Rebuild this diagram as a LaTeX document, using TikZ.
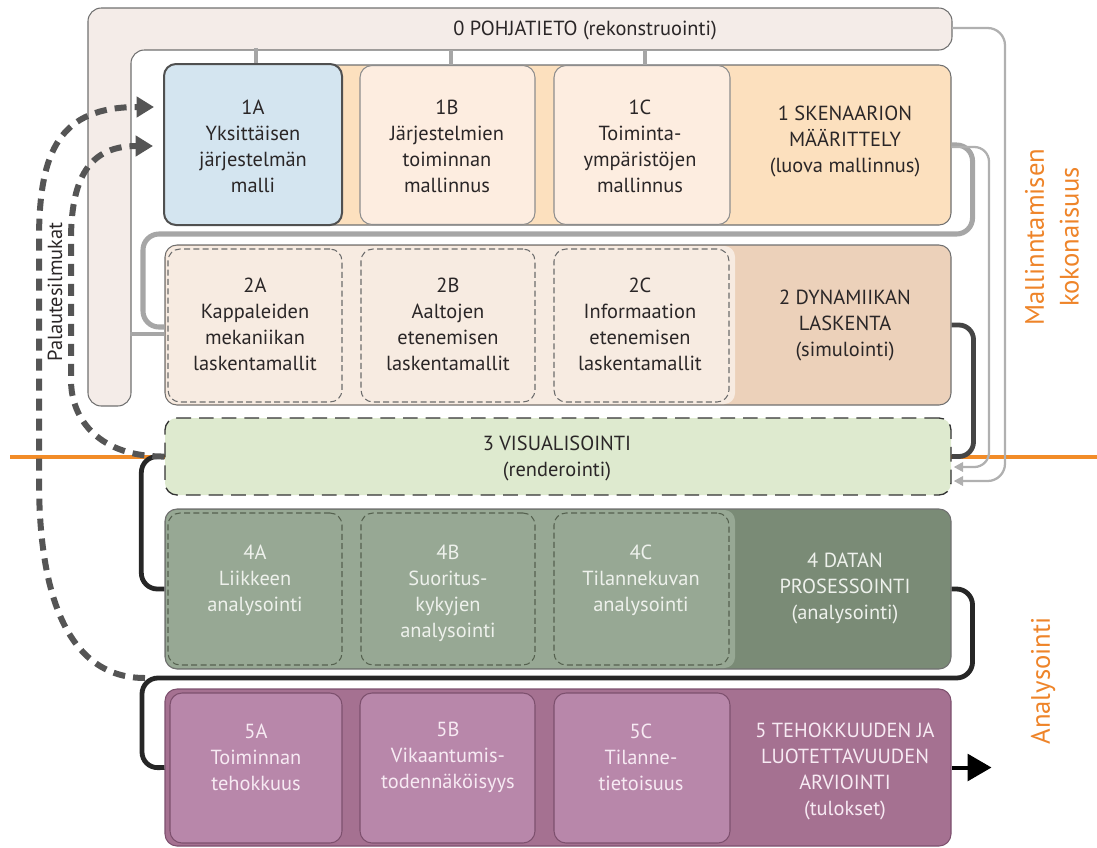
\documentclass[tikz,border=0pt]{standalone}
\usepackage{fontspec}
\setmainfont{PT Sans}
\usetikzlibrary{arrows.meta,calc}
\definecolor{lfill}{HTML}{F4ECE8}
\definecolor{lborder}{HTML}{707070}
\definecolor{rOne}{HTML}{FCE0BE}
\definecolor{bOne}{HTML}{FDEDE0}
\definecolor{aOne}{HTML}{D4E5F0}
\definecolor{aBorder}{HTML}{505050}
\definecolor{rTwo}{HTML}{ECD1BA}
\definecolor{sTwo}{HTML}{F7EBE1}
\definecolor{rThree}{HTML}{DEEACF}
\definecolor{rFour}{HTML}{7A8B76}
\definecolor{sFour}{HTML}{97A894}
\definecolor{dFour}{HTML}{55614F}
\definecolor{rFive}{HTML}{A57191}
\definecolor{bFive}{HTML}{B887AA}
\definecolor{bFiveBorder}{HTML}{7D506E}
\definecolor{orangeline}{HTML}{F28C28}
\definecolor{orangetext}{HTML}{EE8429}
\definecolor{gthickc}{HTML}{A6A6A6}
\definecolor{gthinc}{HTML}{B0B0B0}
\definecolor{darkc}{HTML}{454545}
\definecolor{textdark}{HTML}{2A2627}
\definecolor{textlightg}{HTML}{EEF1EC}
\definecolor{textlightp}{HTML}{F7EAF3}
\definecolor{fbc}{HTML}{555555}
\begin{document}
\begin{tikzpicture}[x=0.75pt,y=-0.75pt,
  box/.style 2 args={rectangle, rounded corners=9pt, minimum width=#1*0.75pt, minimum height=#2*0.75pt, inner sep=0pt},
  txt/.style={align=center, font=\fontsize{15.3}{19.5}\selectfont, text=textdark, inner sep=0pt},
  txtg/.style={txt, text=textlightg},
  txtp/.style={txt, text=textlightp},
  sidetxt/.style={align=center, font=\fontsize{20}{26}\selectfont, text=orangetext, inner sep=0pt, rotate=90},
  gthick/.style={draw=gthickc, line width=3.8pt},
  gthin/.style={draw=gthinc, line width=1.7pt, -{Triangle[length=7pt,width=7pt]}},
  gstub/.style={draw=gthickc, line width=3pt},
  cdark/.style={draw=darkc, line width=3.6pt},
  cblack/.style={draw=black!85, line width=3.6pt},
  fb/.style={draw=fbc, line width=4.5pt, dash pattern=on 9pt off 6pt, -{Triangle[length=13pt,width=15pt]}},
  dbox/.style={draw=gray!85!black, line width=0.8pt, dash pattern=on 4.5pt off 2.5pt},
  dboxg/.style={draw=dFour, line width=0.8pt, dash pattern=on 4.5pt off 2.5pt}
]
\useasboundingbox (0,0) rectangle (1097,847);
% orange separator
\draw[orangeline, line width=3.2pt] (10,457) -- (1097,457);
% 0 POHJATIETO L-shape
\draw[fill=lfill, draw=lborder, line width=0.8pt, rounded corners=10pt]
  (500,8) -- (952,8) -- (952,50) -- (131,50) -- (131,406) -- (88,406) -- (88,8) -- cycle;
\coordinate (L0e) at (952,28);
\node[txt] (t0) at (585,30) {0 POHJATIETO (rekonstruointi)};

% Row 1
\node[box={786}{160}, fill=rOne, draw=lborder, line width=0.8pt] (r1) at (558,145) {};
\node[box={178}{161}, fill=aOne, draw=aBorder, line width=1.5pt] (n1A) at (253,144.5) {};
\node[box={175}{159}, fill=bOne, draw=lborder!80, line width=0.8pt] (n1B) at (447.5,145) {};
\node[box={176}{159}, fill=bOne, draw=lborder!80, line width=0.8pt] (n1C) at (642,145) {};
\draw[gstub] ($(n1A.north)+(3,0)$) -- ++(0,-15);
\draw[gstub] ($(n1B.north)+(3,0)$) -- ++(0,-15);
\draw[gstub] ($(n1C.north)+(3,0)$) -- ++(0,-15);

% Row 2
\node[box={786}{160}, fill=rTwo, draw=lborder, line width=0.8pt] (r2) at (558,325) {};
\node[box={569}{158}, fill=sTwo, rounded corners=8pt] (s2) at (450.5,325) {};
\node[box={174}{153}, dbox] (n2A) at (255,325.5) {};
\node[box={174}{153}, dbox] (n2B) at (448,325.5) {};
\node[box={175}{153}, dbox] (n2C) at (641.5,325.5) {};
\draw[gstub] ($(r2.west)+(0,9)$) -- ++(-34,0);

% Row 3
\node[box={786}{77}, fill=rThree, draw=black!80, line width=1pt, dash pattern=on 11pt off 6pt] (r3) at (558,456.5) {};

% Row 4
\node[box={786}{160}, fill=rFour, draw=lborder, line width=0.8pt] (r4) at (558,589) {};
\node[box={569}{158}, fill=sFour, rounded corners=8pt] (s4) at (450.5,589) {};
\node[box={174}{152}, dboxg] (n4A) at (255,589) {};
\node[box={174}{152}, dboxg] (n4B) at (448,589) {};
\node[box={175}{152}, dboxg] (n4C) at (641.5,589) {};

% Row 5
\node[box={786}{157}, fill=rFive, draw=bFiveBorder, line width=0.8pt] (r5) at (558,767.5) {};
\node[box={172}{150}, fill=bFive, draw=bFiveBorder, line width=0.8pt] (n5A) at (256,768) {};
\node[box={175}{150}, fill=bFive, draw=bFiveBorder, line width=0.8pt] (n5B) at (447.5,768) {};
\node[box={176}{150}, fill=bFive, draw=bFiveBorder, line width=0.8pt] (n5C) at (642,768) {};

% connectors
\draw[gthick, rounded corners=12pt] (r1.east) -- ++(21,0) -- ++(0,89) -- (143,234) -- (143,327) -- ($(r2.west)+(0,2)$);
\draw[gthin, rounded corners=11pt] ($(r1.east)+(0,2)$) -- (989,147) -- (989,467) -- ($(r3.east)+(2,10.5)$);
\draw[gthin, rounded corners=13pt] (L0e) -- (1005,28) -- (1005,481) -- ($(r3.east)+(2,24.5)$);
\draw[cdark, rounded corners=11pt] (r2.east) -- ++(22,0) -- ++(0,131.5) -- (r3.east);
\draw[cblack, rounded corners=12pt] (r3.west) -- ++(-23,0) -- ++(0,132.5) -- (r4.west);
\draw[cblack, rounded corners=12pt] (r4.east) -- ++(21,0) -- ++(0,89) -- (142,678) -- (142,768) -- (r5.west);
\draw[draw=black, line width=3pt, -{Triangle[length=18pt,width=20pt]}] (r5.east) -- ++(40,0);

% feedback loops
\coordinate (fbs) at (145,678);
\draw[fb] (fbs) .. controls (70,678) and (39,600) .. (39,480) -- (39,240) .. controls (39,150) and (60,107) .. ($(n1A.west)+(-9,-37.5)$);
\draw[fb] (r3.west) .. controls (100,457) and (71,420) .. (71,380) -- (71,240) .. controls (71,170) and (95,146) .. ($(n1A.west)+(-10,1.5)$);

% texts
\node[txt] (t1A) at (253,146) {1A\\Yksittäisen\\järjestelmän\\malli};
\node[txt] (t1B) at (447,146) {1B\\Järjestelmien\\toiminnan\\mallinnus};
\node[txt] (t1C) at (640,146) {1C\\Toiminta-\\ympäristöjen\\mallinnus};
\node[txt] (t1) at (845,141) {1 SKENAARION\\MÄÄRITTELY\\(luova mallinnus)};
\node[txt] (t2A) at (255,324.5) {2A\\Kappaleiden\\mekaniikan\\laskentamallit};
\node[txt] (t2B) at (448,324.5) {2B\\Aaltojen\\etenemisen\\laskentamallit};
\node[txt] (t2C) at (640,324.5) {2C\\Informaation\\etenemisen\\laskentamallit};
\node[txt] (t2) at (845,325.5) {2 DYNAMIIKAN\\LASKENTA\\(simulointi)};
\node[txt] (t3) at (557,458) {3 VISUALISOINTI\\(renderointi)};
\node[txtg] (t4A) at (255,580) {4A\\Liikkeen\\analysointi};
\node[txtg] (t4B) at (448,593) {4B\\Suoritus-\\kykyjen\\analysointi};
\node[txtg] (t4C) at (641,580) {4C\\Tilannekuvan\\analysointi};
\node[txtg] (t4) at (845,588) {4 DATAN\\PROSESSOINTI\\(analysointi)};
\node[txtp] (t5A) at (256,757.5) {5A\\Toiminnan\\tehokkuus};
\node[txtp] (t5B) at (448,757.5) {5B\\Vikaantumis-\\todennäköisyys};
\node[txtp] (t5C) at (641,757.5) {5C\\Tilanne-\\tietoisuus};
\node[txtp] (t5) at (845,771) {5 TEHOKKUUDEN JA\\LUOTETTAVUUDEN\\ARVIOINTI\\(tulokset)};

\node[sidetxt] (tm) at (1052,237) {Mallinntamisen\\kokonaisuus};
\node[sidetxt] (ta) at (1043,681) {Analysointi};
\node[txt, rotate=90] (tp) at (55,292) {Palautesilmukat};
\end{tikzpicture}
\end{document}
